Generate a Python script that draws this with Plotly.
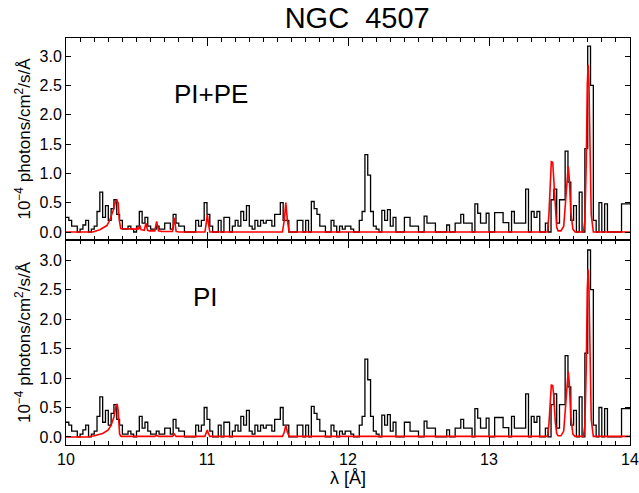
import plotly.graph_objects as go
from plotly.subplots import make_subplots

# Observed spectrum (same in both panels): 0.02 A bins starting at 10.00 A
bin_start = 10.0
bin_width = 0.02
flux = [
    0.25, 0.2, 0.1, 0.1, 0.0, 0.05, 0.12, 0.2, 0.0, 0.05,
    0.1, 0.35, 0.68, 0.25, 0.45, 0.2, 0.4, 0.55, 0.3, 0.2,
    0.05, 0.05, 0.1, 0.05, 0.0, 0.1, 0.35, 0.15, 0.25, 0.1,
    0.05, 0.05, 0.1, 0.05, 0.05, 0.15, 0.15, 0.05, 0.3, 0.15,
    0.1, 0.1, 0.0, 0.0, 0.0, 0.0, 0.2, 0.1, 0.2, 0.5,
    0.3, 0.1, 0.0, 0.0, 0.2, 0.0, 0.25, 0.25, 0.0, 0.1,
    0.2, 0.1, 0.35, 0.2, 0.45, 0.1, 0.05, 0.2, 0.1, 0.2,
    0.15, 0.2, 0.2, 0.1, 0.3, 0.3, 0.5, 0.2, 0.2, 0.0,
    0.0, 0.0, 0.2, 0.2, 0.0, 0.2, 0.0, 0.52, 0.4, 0.3,
    0.1, 0.1, 0.0, 0.0, 0.2, 0.1, 0.0, 0.1, 0.05, 0.1,
    0.1, 0.05, 0.0, 0.0, 0.2, 0.35, 1.32, 0.97, 0.35, 0.1,
    0.05, 0.0, 0.37, 0.2, 0.38, 0.1, 0.25, 0.0, 0.0, 0.0,
    0.25, 0.25, 0.1, 0.1, 0.1, 0.0, 0.0, 0.27, 0.15, 0.15,
    0.15, 0.0, 0.0, 0.0, 0.0, 0.12, 0.0, 0.0, 0.15, 0.15,
    0.3, 0.15, 0.15, 0.15, 0.0, 0.48, 0.32, 0.15, 0.15, 0.32,
    0.0, 0.0, 0.33, 0.33, 0.33, 0.16, 0.16, 0.0, 0.35, 0.15,
    0.15, 0.15, 0.15, 0.73, 0.0, 0.35, 0.25, 0.35, 0.0, 0.0,
    0.15, 0.0, 0.55, 0.73, 0.15, 0.55, 0.55, 1.38, 0.85, 0.2,
    0.45, 0.0, 0.68, 0.0, 1.42, 3.17, 2.5, 0.2, 0.0, 0.5,
    0.0, 0.48, 0.0, 0.0, 0.0, 0.0, 0.0, 0.48, 0.48, 0.48,
]

# Model PI+PE (top panel)
model_top_wl = [10.00, 10.19, 10.24, 10.29, 10.31, 10.335, 10.35, 10.36, 10.37, 10.378,
                10.388, 10.50, 10.506, 10.512, 10.518, 10.525, 10.532, 10.555, 10.567, 10.578,
                10.59, 10.630, 10.643, 10.656, 10.68, 10.755, 10.768, 10.781, 10.80, 10.985,
                10.995, 11.002, 11.010, 11.020, 11.535, 11.548, 11.559, 11.570, 11.583, 13.415,
                13.425, 13.435, 13.442, 13.452, 13.46, 13.47, 13.48, 13.49, 13.51, 13.53,
                13.545, 13.555, 13.562, 13.57, 13.58, 13.595, 13.61, 13.67, 13.68, 13.69,
                13.697, 13.703, 13.709, 13.716, 13.725, 13.74, 14.0]
model_top_flux = [0.0, 0.0, 0.04, 0.11, 0.2, 0.37, 0.51, 0.55, 0.49, 0.2,
                  0.06, 0.05, 0.08, 0.05, 0.06, 0.11, 0.04, 0.03, 0.15, 0.03,
                  0.02, 0.02, 0.18, 0.02, 0.01, 0.01, 0.24, 0.01, 0.0, 0.0,
                  0.15, 0.3, 0.15, 0.0, 0.0, 0.2, 0.5, 0.2, 0.0, 0.0,
                  0.3, 0.9, 1.2, 1.19, 0.9, 0.35, 0.08, 0.02, 0.02, 0.1,
                  0.5, 0.9, 1.12, 0.9, 0.35, 0.05, 0.0, 0.0, 0.2, 1.2,
                  2.5, 2.85, 2.5, 1.2, 0.3, 0.0, 0.0]

# Model PI (bottom panel)
model_bot_wl = [10.00, 10.15, 10.20, 10.26, 10.30, 10.32, 10.34, 10.355, 10.363, 10.37,
                10.38, 10.39, 10.63, 10.643, 10.656, 10.755, 10.768, 10.781, 10.985, 10.995,
                11.002, 11.010, 11.020, 11.535, 11.548, 11.559, 11.570, 11.583, 13.415, 13.425,
                13.435, 13.442, 13.452, 13.46, 13.47, 13.48, 13.49, 13.51, 13.53, 13.545,
                13.555, 13.562, 13.57, 13.58, 13.595, 13.61, 13.67, 13.68, 13.69, 13.697,
                13.703, 13.709, 13.716, 13.725, 13.74, 14.0]
model_bot_flux = [0.0, 0.0, 0.02, 0.06, 0.12, 0.2, 0.34, 0.53, 0.56, 0.45,
                  0.05, 0.01, 0.01, 0.03, 0.01, 0.01, 0.05, 0.01, 0.01, 0.06,
                  0.12, 0.06, 0.01, 0.01, 0.08, 0.2, 0.08, 0.01, 0.01, 0.22,
                  0.68, 0.88, 0.87, 0.68, 0.26, 0.06, 0.02, 0.02, 0.1, 0.5,
                  0.9, 1.11, 0.9, 0.35, 0.05, 0.01, 0.01, 0.2, 1.2, 2.5,
                  2.84, 2.5, 1.2, 0.3, 0.01, 0.01]

title_text = "NGC  4507"
panel_labels = ["PI+PE", "PI"]
ylabel = "10<sup>\u22124</sup> photons/cm<sup>2</sup>/s/\u00c5"
xlabel = "\u03bb [\u00c5]"
xticks = [10, 11, 12, 13, 14]
yticks = [0.0, 0.5, 1.0, 1.5, 2.0, 2.5, 3.0]

edges = [bin_start + bin_width * i for i in range(len(flux))] + [bin_start + bin_width * len(flux)]
hist_y = flux + [flux[-1]]

FONT = "Liberation Sans, Arial, sans-serif"

fig = make_subplots(rows=2, cols=1, shared_xaxes=True, vertical_spacing=0)

for row, (mx, my) in zip([1, 2], [(model_top_wl, model_top_flux), (model_bot_wl, model_bot_flux)]):
    fig.add_trace(go.Scatter(x=edges, y=hist_y, mode="lines", line=dict(color="black", width=1.3, shape="hv"),
                             showlegend=False, hoverinfo="skip"), row=row, col=1)
    fig.add_trace(go.Scatter(x=mx, y=my, mode="lines", line=dict(color="#ff0000", width=1.6),
                             showlegend=False, hoverinfo="skip"), row=row, col=1)

axis_common = dict(showline=True, linecolor="black", linewidth=1, mirror="ticks", showgrid=False,
                   zeroline=False, ticks="inside", tickcolor="black", automargin=False,
                   ticklabeloverflow="allow",
                   tickfont=dict(family=FONT, size=16, color="black"))

for row in [1, 2]:
    fig.update_xaxes(range=[10, 14], tickvals=xticks, ticklen=8, tickwidth=1,
                     minor=dict(dtick=0.1, ticklen=4, ticks="inside", tickcolor="black", showgrid=False),
                     **axis_common, row=row, col=1)
    fig.update_yaxes(tickvals=yticks, tickformat=".1f", ticklen=5,
                     title=dict(text=ylabel, font=dict(family=FONT, size=17, color="black"), standoff=4),
                     **axis_common, row=row, col=1)

fig.update_yaxes(range=[-0.136, 3.307], domain=[0.5037, 1.0], row=1, col=1)
fig.update_yaxes(range=[-0.136, 3.34], domain=[0.0, 0.5037], row=2, col=1)
fig.update_xaxes(showticklabels=False, row=1, col=1)
fig.update_xaxes(title=dict(text=xlabel, font=dict(family=FONT, size=18, color="black"), standoff=2), row=2, col=1)

fig.add_annotation(x=11.028, y=2.36, xref="x", yref="y", text=panel_labels[0], showarrow=False,
                   font=dict(family=FONT, size=26, color="black"))
fig.add_annotation(x=10.986, y=2.37, xref="x2", yref="y2", text=panel_labels[1], showarrow=False,
                   font=dict(family=FONT, size=26, color="black"))

fig.update_layout(
    width=639, height=493,
    margin=dict(l=66, r=9, t=38, b=48),
    paper_bgcolor="white", plot_bgcolor="white",
    title=dict(text=title_text, x=0.559, xanchor="center", y=0.9645, yanchor="middle",
               font=dict(family=FONT, size=29, color="black")),
)

fig.write_html("out.html", config={"displayModeBar": False},
               post_script="document.body.style.margin='0';document.body.style.overflow='hidden';")
